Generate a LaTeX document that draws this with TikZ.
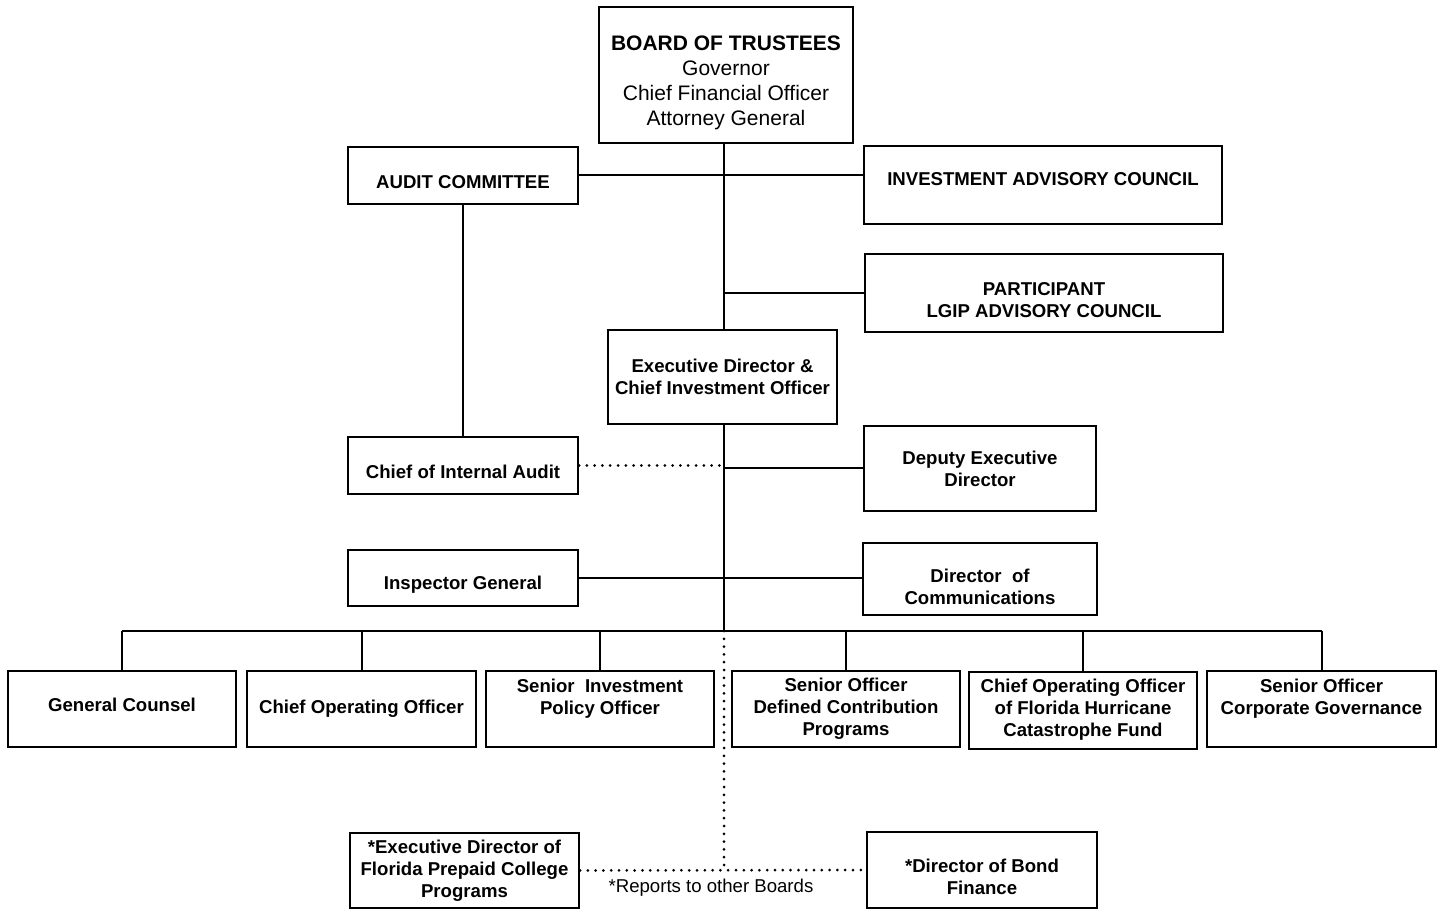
\documentclass[tikz,border=0pt]{standalone}
\usepackage{fontspec}
\setmainfont{Liberation Sans}

\begin{document}
\begin{tikzpicture}[x=0.5pt,y=-0.5pt,
  box/.style={draw,line width=1pt,align=center,inner sep=0pt,
    font=\bfseries\fontsize{9.3}{11}\selectfont},
  link/.style={line width=1pt},
  dots/.style={line width=1.5pt,dash pattern=on 0pt off 3.9pt,line cap=round}]

  \useasboundingbox (0,0) rectangle (1442,909);

  \node[box,minimum width=127pt,minimum height=68pt,
    font=\fontsize{10.5}{12.5}\selectfont] (board) at (726,75)
    {\rule{0pt}{15.1pt}\textbf{BOARD OF TRUSTEES}\\Governor\\Chief Financial Officer\\Attorney General};

  \node[box,minimum width=115pt,minimum height=28.5pt] (audit) at (463,175.5)
    {\rule{0pt}{13.2pt}AUDIT COMMITTEE};
  \node[box,minimum width=179pt,minimum height=39pt] (iac) at (1043,185)
    {INVESTMENT ADVISORY COUNCIL\\[-5pt]\mbox{}};
  \node[box,minimum width=179pt,minimum height=39pt] (lgip) at (1044,293)
    {\rule{0pt}{13.2pt}PARTICIPANT\\LGIP ADVISORY COUNCIL};
  \node[box,minimum width=114.5pt,minimum height=47pt] (exec) at (722.5,377)
    {Executive Director \&\\Chief Investment Officer};
  \node[box,minimum width=115pt,minimum height=28.5pt] (cia) at (463,465.5)
    {\rule{0pt}{13.3pt}Chief of Internal Audit};
  \node[box,minimum width=116pt,minimum height=42.5pt] (ded) at (980,468.5)
    {Deputy Executive\\Director};
  \node[box,minimum width=115pt,minimum height=28pt] (ig) at (463,578)
    {\rule{0pt}{13.3pt}Inspector General};
  \node[box,minimum width=117pt,minimum height=36pt] (doc) at (980,579)
    {\rule{0pt}{14.3pt}Director\ \ of\\Communications};

  % direct reports of the executive director
  \node[box,minimum width=114pt,minimum height=38pt] (gc) at (122,709)
    {General Counsel\\[-7pt]\mbox{}};
  \node[box,minimum width=114.5pt,minimum height=38pt] (coo) at (361.5,709)
    {Chief Operating Officer};
  \node[box,minimum width=114pt,minimum height=38pt] (sipo) at (600,709)
    {Senior\ \ Investment\\Policy Officer\\[1.5pt]\mbox{}};
  \node[box,minimum width=114pt,minimum height=38pt] (sodc) at (846,709)
    {Senior Officer\\Defined Contribution\\Programs};
  \node[box,minimum width=114pt,minimum height=38.5pt] (fhcf) at (1083,710.5)
    {Chief Operating Officer\\of Florida Hurricane\\Catastrophe Fund\\[-8pt]\mbox{}};
  \node[box,minimum width=114.5pt,minimum height=38pt] (socg) at (1321.5,709)
    {Senior Officer\\Corporate Governance\\[1.5pt]\mbox{}};

  % other boards
  \node[box,minimum width=114.5pt,minimum height=37.5pt] (fpcp) at (464.5,870.5)
    {*Executive Director of\\Florida Prepaid College\\Programs};
  \node[box,minimum width=115pt,minimum height=38pt] (bond) at (982,870)
    {\rule{0pt}{13.5pt}*Director of Bond\\Finance};
  \node[font=\fontsize{9.3}{11}\selectfont] (note) at (711,888) {*Reports to other Boards};

  \coordinate (bus) at (724,631);

  \draw[link] (board.south -| bus) -- (exec.north -| bus);
  \draw[link] (audit.east) -- (audit.east -| iac.west);
  \draw[link] (lgip.west) -- (lgip.west -| bus);
  \draw[link] (audit.south) -- (cia.north);
  \draw[link] (exec.south -| bus) -- (bus);
  \draw[link] (ded.west) -- (ded.west -| bus);
  \draw[link] (ig.east) -- (ig.east -| doc.west);
  \draw[dots] (cia.east) -- (cia.east -| bus);

  \draw[link] (gc.north |- bus) -- (socg.north |- bus);
  \foreach \n in {gc,coo,sipo,sodc,fhcf,socg}
    \draw[link] (\n.north) -- (\n.north |- bus);

  \draw[dots] (bus) -- (bus |- fpcp.east);
  \draw[dots] (fpcp.east) -- (bond.west);

\end{tikzpicture}
\end{document}
